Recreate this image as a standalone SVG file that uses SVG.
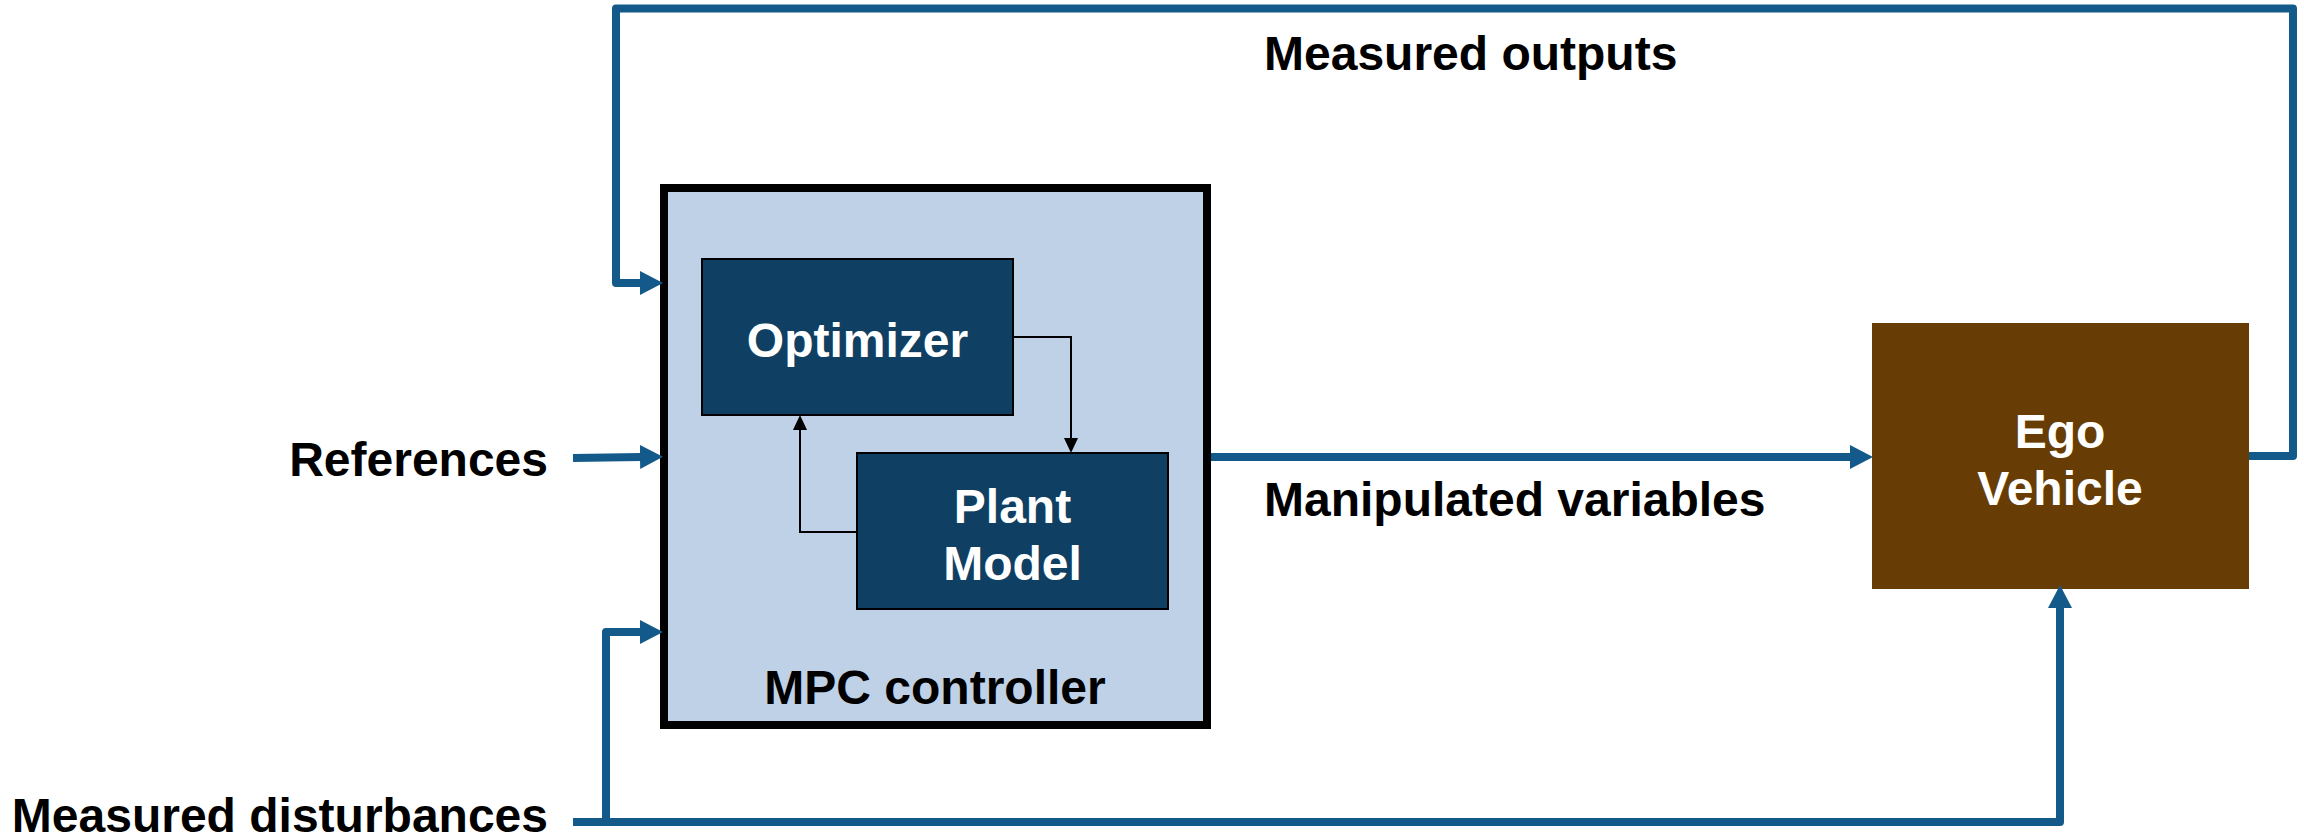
<svg xmlns="http://www.w3.org/2000/svg" width="2304" height="840" viewBox="0 0 2304 840">
<style>
text{font-family:"Liberation Sans",Arial,sans-serif;font-weight:bold;font-size:48px}
.lbl{fill:#000}
.wt{fill:#fff;text-anchor:middle}
.big{fill:none;stroke:#135A8B;stroke-width:8;stroke-linejoin:round}
.thin{fill:none;stroke:#000;stroke-width:2}
.inner{fill:#0F3F63;stroke:#000;stroke-width:2}
</style>
<defs>
<marker id="ab" viewBox="0 0 23 24" markerWidth="23" markerHeight="24" refX="1" refY="12" orient="auto" markerUnits="userSpaceOnUse">
<path d="M0,0 L23,12 L0,24 Z" fill="#135A8B"/>
</marker>
<marker id="as" viewBox="0 0 15 14" markerWidth="15" markerHeight="14" refX="1" refY="7" orient="auto" markerUnits="userSpaceOnUse">
<path d="M0,0 L15,7 L0,14 Z" fill="#000"/>
</marker>
</defs>
<rect width="2304" height="840" fill="#fff"/>
<g id="mpc">
<rect x="664" y="188" width="543" height="537" fill="#BFD1E6" stroke="#000" stroke-width="8"/>
<text class="lbl" x="935" y="704" text-anchor="middle">MPC controller</text>
</g>
<g id="optimizer">
<rect class="inner" x="702" y="259" width="311" height="156"/>
<text class="wt" x="857.5" y="357">Optimizer</text>
</g>
<g id="plant">
<rect class="inner" x="857" y="453" width="311" height="156"/>
<text class="wt" x="1012.5" y="523">Plant</text>
<text class="wt" x="1012.5" y="580">Model</text>
</g>
<g id="ego">
<rect x="1872" y="323" width="377" height="266" fill="#683D05"/>
<text class="wt" x="2060" y="448">Ego</text>
<text class="wt" x="2060" y="505">Vehicle</text>
</g>
<g id="labels">
<text class="lbl" x="548" y="476" text-anchor="end">References</text>
<text class="lbl" x="548" y="832" text-anchor="end">Measured disturbances</text>
<text class="lbl" x="1264" y="70">Measured outputs</text>
<text class="lbl" x="1264" y="516">Manipulated variables</text>
</g>
<g id="connectors">
<path class="thin" d="M1013,337 H1071 V439" marker-end="url(#as)"/>
<path class="thin" d="M857,532 H800 V429" marker-end="url(#as)"/>
<path class="big" d="M2249,456 H2293 V8.5 H616 V283 H641" marker-end="url(#ab)"/>
<path class="big" d="M573,458 L641,457" marker-end="url(#ab)"/>
<path class="big" d="M1211,457 H1851" marker-end="url(#ab)"/>
<path class="big" d="M573,822 H2060 V607" marker-end="url(#ab)"/>
<path class="big" d="M606,822 V632 H641" marker-end="url(#ab)"/>
</g>
</svg>
